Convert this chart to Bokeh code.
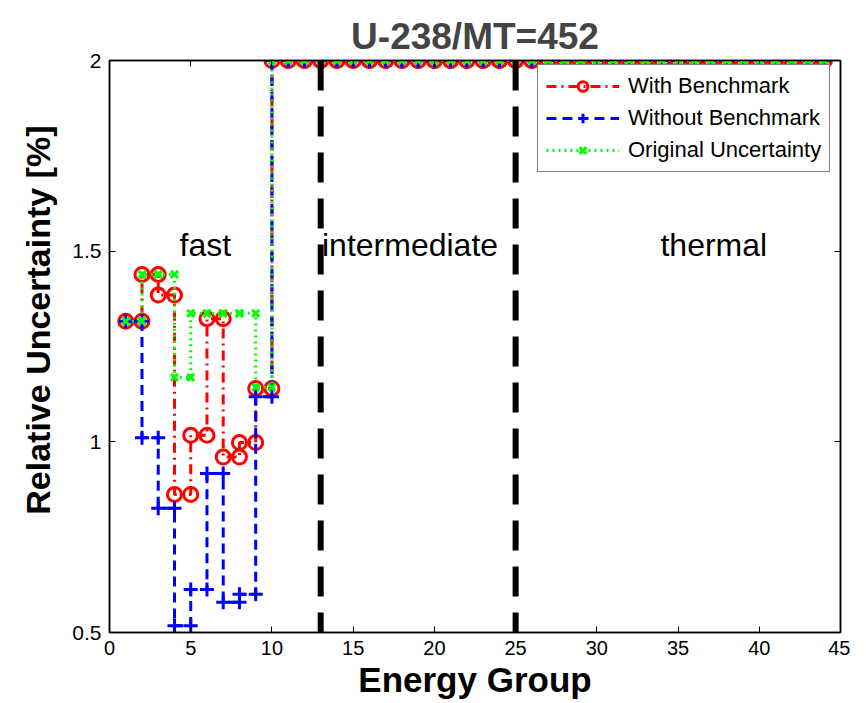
from bokeh.plotting import figure
from bokeh.models import (Span, Label, Legend, LegendItem, LinearAxis, FixedTicker,
                          Title)
from bokeh.embed import file_html
from bokeh.resources import INLINE

# ---------------- data ----------------
groups = list(range(1, 45))
with_benchmark = [1.316, 1.439, 1.385, 0.862, 1.017, 1.323, 0.960, 0.998, 1.140,
                  2.0, 2.0, 2.0, 2.0, 2.0, 2.0, 2.0, 2.0, 2.0, 2.0, 2.0, 2.0, 2.0,
                  2.0, 2.0, 2.0, 2.0, 2.0, 2.0, 2.0, 2.0, 2.0, 2.0, 2.0, 2.0, 2.0,
                  2.0, 2.0, 2.0, 2.0, 2.0, 2.0, 2.0, 2.0, 2.0]
without_benchmark = [1.316, 1.011, 0.826, 0.518, 0.613, 0.917, 0.579, 0.600, 1.118,
                     2.0, 2.0, 2.0, 2.0, 2.0, 2.0, 2.0, 2.0, 2.0, 2.0, 2.0, 2.0, 2.0,
                     2.0, 2.0, 2.0, 2.0, 2.0, 2.0, 2.0, 2.0, 2.0, 2.0, 2.0, 2.0, 2.0,
                     2.0, 2.0, 2.0, 2.0, 2.0, 2.0, 2.0, 2.0, 2.0]
original_uncertainty = [1.316, 1.439, 1.439, 1.169, 1.337, 1.337, 1.337, 1.337, 1.143,
                        2.0, 2.0, 2.0, 2.0, 2.0, 2.0, 2.0, 2.0, 2.0, 2.0, 2.0, 2.0, 2.0,
                        2.0, 2.0, 2.0, 2.0, 2.0, 2.0, 2.0, 2.0, 2.0, 2.0, 2.0, 2.0, 2.0,
                        2.0, 2.0, 2.0, 2.0, 2.0, 2.0, 2.0, 2.0, 2.0]
series_names = ["With Benchmark", "Without Benchmark", "Original Uncertainty"]
region_boundaries = [13, 25]
region_names = ["fast", "intermediate", "thermal"]
region_centers = [5.9, 18.5, 37.2]
region_label_y = 1.515
x_ticks = [0, 5, 10, 15, 20, 25, 30, 35, 40, 45]
y_ticks = [0.5, 1, 1.5, 2]
y_tick_labels = ["0.5", "1", "1.5", "2"]
y_title = "Relative Uncertainty [%]"


def stairs(x, y):
    xs, ys = [], []
    for i in range(len(x)):
        if i > 0:
            xs.append(x[i]); ys.append(y[i - 1])
        xs.append(x[i]); ys.append(y[i])
    return xs, ys


FONT = "Liberation Sans"

p = figure(width=850, height=703, x_range=(0, 45), y_range=(0.5, 2),
           output_backend="svg", toolbar_location=None,
           min_border_left=109, min_border_right=10, min_border_top=60,
           min_border_bottom=71)
p.background_fill_color = "white"
p.border_fill_color = "white"
p.outline_line_color = "black"
p.outline_line_width = 1.5
p.xgrid.visible = False
p.ygrid.visible = False

p.title.text = "U-238/MT=452"
p.title.align = "center"
p.title.vertical_align = "top"
p.title.text_font = FONT
p.title.text_font_size = "37px"
p.title.text_font_style = "bold"
p.title.standoff = 4

for ax in (p.xaxis[0], p.yaxis[0]):
    ax.axis_line_width = 1.5
    ax.major_tick_in = 6
    ax.major_tick_out = 0
    ax.minor_tick_line_color = None
    ax.major_label_text_font = FONT
    ax.major_label_text_font_size = "20px"
    ax.major_label_text_color = "black"
    ax.axis_label_text_font = FONT
    ax.axis_label_text_font_style = "bold"
    ax.axis_label_text_color = "black"

p.xaxis[0].ticker = FixedTicker(ticks=x_ticks)
p.yaxis[0].ticker = FixedTicker(ticks=y_ticks)
p.yaxis[0].major_label_overrides = {t: l for t, l in zip(y_ticks, y_tick_labels)}
p.yaxis[0].major_label_text_font_size = "21px"
p.xaxis[0].axis_label = "Energy Group"
p.xaxis[0].axis_label_text_font_size = "35px"
p.xaxis[0].major_label_standoff = 8
p.yaxis[0].major_label_standoff = 8
p.xaxis[0].axis_label_standoff = 2

for loc, tk in (("above", x_ticks), ("right", y_ticks)):
    a = LinearAxis(ticker=FixedTicker(ticks=tk), major_label_text_color=None,
                   major_label_text_font_size="1px", major_tick_in=6,
                   major_tick_out=0, minor_tick_line_color=None,
                   axis_line_width=1.5, major_label_standoff=0)
    p.add_layout(a, loc)

# y-axis title (placed like the original, above the frame centre)
p.add_layout(Title(text=y_title, align="right", offset=65, standoff=26,
                   text_font=FONT, text_font_size="34px",
                   text_font_style="bold", text_color="black"), "left")

# region boundaries
for b in region_boundaries:
    p.add_layout(Span(location=b, dimension="height", line_color="black",
                      line_width=6, line_dash="30 16"))

# region labels
for name, cx in zip(region_names, region_centers):
    p.add_layout(Label(x=cx, y=region_label_y, text=name, text_align="center",
                       text_baseline="middle", text_font=FONT,
                       text_font_size="32px", text_color="black"))

# series
xs_r, ys_r = stairs(groups, with_benchmark)
xs_b, ys_b = stairs(groups, without_benchmark)
xs_g, ys_g = stairs(groups, original_uncertainty)

r_line = p.line(xs_r, ys_r, line_color="red", line_width=3, line_dash="10 5 2 5")
r_mark = p.scatter(xs_r, ys_r, marker="circle", size=14, line_color="red",
                   line_width=3, fill_color=None)
b_line = p.line(xs_b, ys_b, line_color="blue", line_width=3, line_dash="10 6")
b_mark = p.scatter(xs_b, ys_b, marker="cross", size=14, line_color="blue",
                   line_width=3)
g_line = p.line(xs_g, ys_g, line_color="#00ff00", line_width=3, line_dash="2 4")
g_mark = p.scatter(xs_g, ys_g, marker="x", size=10, line_color="#00ff00",
                   line_width=3)

legend = Legend(items=[
    LegendItem(label=series_names[0], renderers=[r_line, r_mark]),
    LegendItem(label=series_names[1], renderers=[b_line, b_mark]),
    LegendItem(label=series_names[2], renderers=[g_line, g_mark]),
], location=(428, 460))
legend.label_text_font = FONT
legend.label_text_font_size = "22px"
legend.label_text_color = "black"
legend.glyph_width = 73
legend.glyph_height = 24
legend.label_height = 24
legend.label_standoff = 9
legend.spacing = 6
legend.padding = 8
legend.margin = 0
legend.border_line_color = "black"
legend.border_line_width = 1.5
legend.background_fill_color = "white"
legend.background_fill_alpha = 1.0
p.add_layout(legend, "center")

open("out.html", "w").write(file_html(p, INLINE))
